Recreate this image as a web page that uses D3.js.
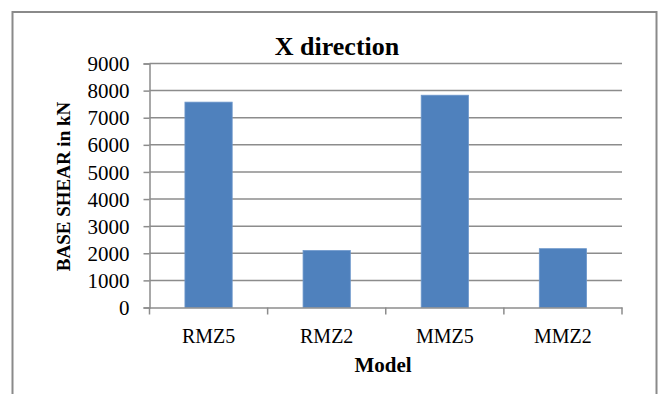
<!DOCTYPE html>
<html><head><meta charset="utf-8">
<script src="https://cdn.jsdelivr.net/npm/d3@7"></script>
<style>body{margin:0;background:#fff}</style>
</head><body>
<svg id="c" width="668" height="394"></svg>
<script>
const categories = ["RMZ5", "RMZ2", "MMZ5", "MMZ2"];
const values = [7575, 2100, 7830, 2170];
const yTicks = [0, 1000, 2000, 3000, 4000, 5000, 6000, 7000, 8000, 9000];
const title = "X direction";
const xTitle = "Model";
const yTitle = "BASE SHEAR in kN";

const svg = d3.select("#c");
const font = "'Liberation Serif', 'DejaVu Serif', serif";
svg.append("rect").attr("x", 12.5).attr("y", 12).attr("width", 644).attr("height", 400)
  .attr("fill", "#fff").attr("stroke", "#8a8a8a").attr("stroke-width", 2);

const L = 149.5, R = 622, T = 63.5, B = 307.5;
const x = d3.scaleBand().domain(categories).range([L, R]).paddingInner(0.6).paddingOuter(0.3);
const y = d3.scaleLinear().domain([0, 9000]).range([B, T]);

// gridlines
svg.append("g").selectAll("line").data(yTicks.filter(d => d > 0)).join("line")
  .attr("x1", L).attr("x2", R).attr("y1", d => y(d)).attr("y2", d => y(d))
  .attr("stroke", "#8c8c8c").attr("stroke-width", 1.5);

// bars
svg.append("g").selectAll("rect").data(values).join("rect")
  .attr("x", (d, i) => x(categories[i])).attr("width", x.bandwidth())
  .attr("y", d => y(d)).attr("height", d => B - y(d))
  .attr("fill", "#4F81BD").attr("stroke", "#6d97cb").attr("stroke-width", 0.8);

// y axis
const ya = svg.append("g").attr("transform", `translate(${L},0)`)
  .call(d3.axisLeft(y).tickValues(yTicks).tickSize(6).tickPadding(14).tickFormat(d3.format("d")));
ya.select(".domain").attr("stroke", "#8c8c8c").attr("stroke-width", 1.5);
ya.selectAll(".tick line").attr("stroke", "#8c8c8c").attr("stroke-width", 1.5);
ya.selectAll("text").attr("font-family", font).attr("font-size", 21).attr("fill", "#000").attr("dy", "0.34em");

// x axis
const xa = svg.append("g").attr("transform", `translate(0,${B})`)
  .call(d3.axisBottom(x).tickSize(0).tickPadding(20));
xa.select(".domain").attr("stroke", "#8c8c8c").attr("stroke-width", 1.5);
xa.selectAll("text").attr("font-family", font).attr("font-size", 20).attr("fill", "#000")
  .attr("dy", null).attr("y", 35);
// category boundary ticks
const step = x.step();
const bounds = d3.range(categories.length + 1).map(i => x(categories[0]) - x.paddingOuter() * step + i * step);
svg.append("g").selectAll("line").data(bounds).join("line")
  .attr("x1", d => d).attr("x2", d => d).attr("y1", B).attr("y2", B + 7)
  .attr("stroke", "#8c8c8c").attr("stroke-width", 1.5);

svg.append("text").attr("x", 337).attr("y", 55).attr("text-anchor", "middle")
  .attr("font-family", font).attr("font-weight", "bold").attr("font-size", 26).text(title);
svg.append("text").attr("x", 383).attr("y", 372).attr("text-anchor", "middle")
  .attr("font-family", font).attr("font-weight", "bold").attr("font-size", 21).text(xTitle);
svg.append("text").attr("transform", `translate(70,186.5) rotate(-90)`).attr("text-anchor", "middle")
  .attr("font-family", font).attr("font-weight", "bold").attr("font-size", 19).text(yTitle);
</script>
</body></html>
